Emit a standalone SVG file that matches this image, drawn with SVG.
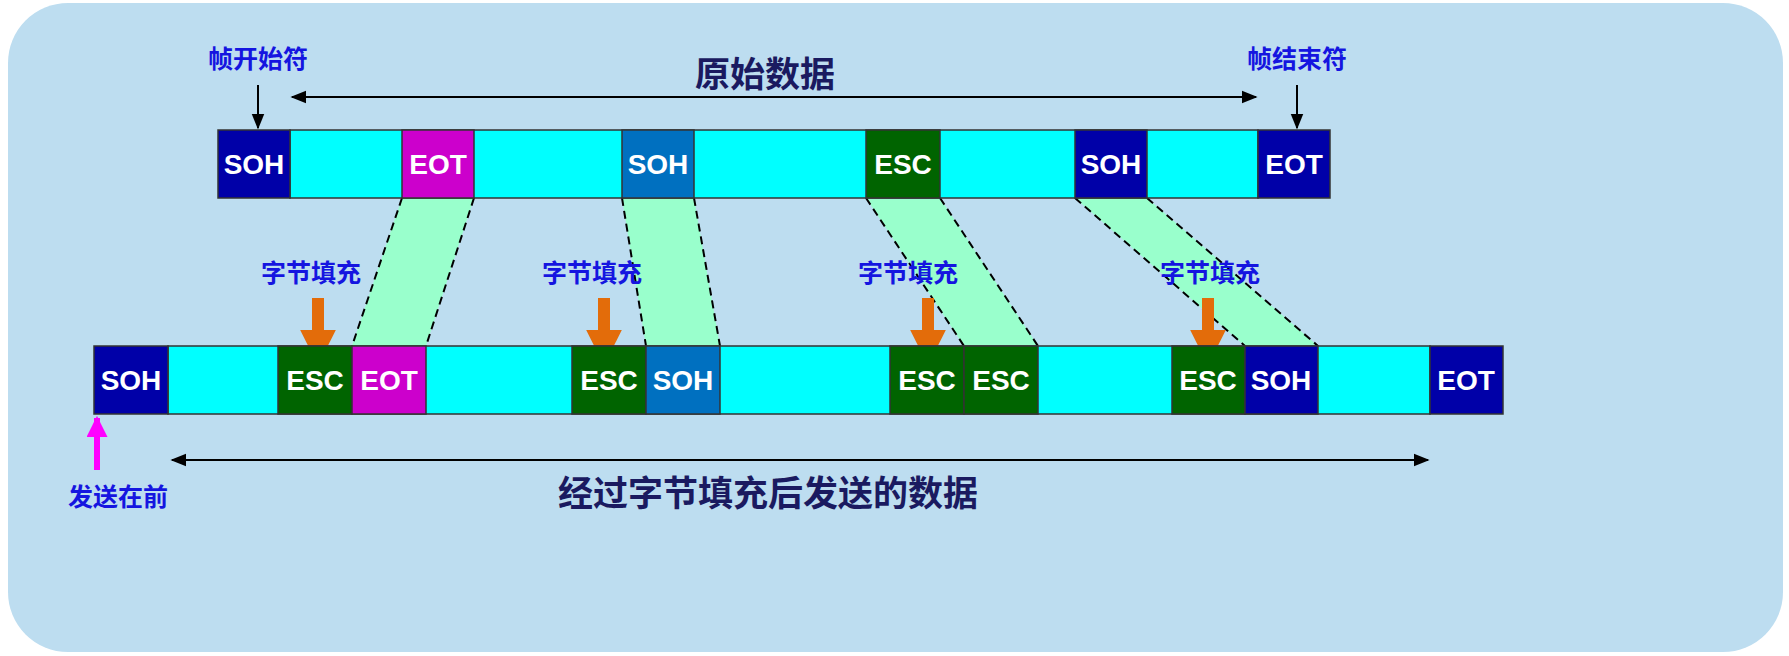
<svg xmlns="http://www.w3.org/2000/svg" width="1789" height="656" viewBox="0 0 1789 656">
<style>
.b{stroke:#333;stroke-width:1.5}
.cy{fill:#00FFFF}.db{fill:#0000A8}.mb{fill:#0070C0}.mg{fill:#CC00CC}.gr{fill:#006400}
.t{font-family:"Liberation Sans","Noto Sans CJK SC",sans-serif;font-weight:bold;fill:#fff;font-size:28px;text-anchor:middle}
.lb{font-family:"Noto Sans CJK SC",sans-serif;font-weight:bold;fill:#1515E0;font-size:25px;text-anchor:middle}
.hd{font-family:"Noto Sans CJK SC",sans-serif;font-weight:bold;fill:#1A1A60;font-size:35px;text-anchor:middle}
.tr{fill:#99FFCC}.dl{stroke:#000;stroke-width:2;stroke-dasharray:8,5;fill:none}
.ar{stroke:#000;stroke-width:2}
</style>
<defs>
<marker id="ah" viewBox="0 0 10 10" refX="9" refY="5" markerWidth="8" markerHeight="8" orient="auto-start-reverse"><path d="M0,1 L10,5 L0,9z" fill="#000"/></marker>
<marker id="pk" viewBox="0 0 10 10" refX="9" refY="5" markerWidth="3.5" markerHeight="3.5" orient="auto"><path d="M0,0 L10,5 L0,10z" fill="#FF00FF"/></marker>
<marker id="or" viewBox="0 0 10 10" refX="9" refY="5" markerWidth="3" markerHeight="3" orient="auto"><path d="M0,0 L10,5 L0,10z" fill="#E36C0A"/></marker>
</defs>
<rect x="8" y="3" width="1775" height="649" rx="60" fill="#BDDDF0"/>
<g id="connectors">
<polygon class="tr" points="402,198 474,198 426,346 352,346"/>
<polygon class="tr" points="622,198 694,198 720,346 646,346"/>
<polygon class="tr" points="866,198 940,198 1038,346 964,346"/>
<polygon class="tr" points="1075,198 1147,198 1318,346 1245,346"/>
<path class="dl" d="M402,198L352,346M474,198L426,346M622,198L646,346M694,198L720,346M866,198L964,346M940,198L1038,346M1075,198L1245,346M1147,198L1318,346"/>
<line class="ar" x1="292" y1="97" x2="1256" y2="97" marker-start="url(#ah)" marker-end="url(#ah)"/>
<line class="ar" x1="258" y1="85" x2="258" y2="128" marker-end="url(#ah)"/>
<line class="ar" x1="1297" y1="85" x2="1297" y2="128" marker-end="url(#ah)"/>
<line class="ar" x1="172" y1="460" x2="1428" y2="460" marker-start="url(#ah)" marker-end="url(#ah)"/>
<line x1="97" y1="470" x2="97" y2="418" stroke="#FF00FF" stroke-width="6" marker-end="url(#pk)"/>
<g stroke="#E36C0A" stroke-width="12" marker-end="url(#or)">
<line x1="318" y1="298" x2="318" y2="362"/><line x1="604" y1="298" x2="604" y2="362"/>
<line x1="928" y1="298" x2="928" y2="362"/><line x1="1208" y1="298" x2="1208" y2="362"/>
</g>
</g>
<g id="top-row">
<rect class="b cy" x="290" y="130" width="968" height="68"/>
<g id="t1"><rect class="b db" x="218" y="130" width="72" height="68"/><text class="t" x="254" y="174">SOH</text></g>
<g id="t2"><rect class="b mg" x="402" y="130" width="72" height="68"/><text class="t" x="438" y="174">EOT</text></g>
<g id="t3"><rect class="b mb" x="622" y="130" width="72" height="68"/><text class="t" x="658" y="174">SOH</text></g>
<g id="t4"><rect class="b gr" x="866" y="130" width="74" height="68"/><text class="t" x="903" y="174">ESC</text></g>
<g id="t5"><rect class="b db" x="1075" y="130" width="72" height="68"/><text class="t" x="1111" y="174">SOH</text></g>
<g id="t6"><rect class="b db" x="1258" y="130" width="72" height="68"/><text class="t" x="1294" y="174">EOT</text></g>
</g>
<g id="bottom-row">
<rect class="b cy" x="168" y="346" width="1262" height="68"/>
<g id="b1"><rect class="b db" x="94" y="346" width="74" height="68"/><text class="t" x="131" y="390">SOH</text></g>
<g id="b2"><rect class="b gr" x="278" y="346" width="74" height="68"/><text class="t" x="315" y="390">ESC</text></g>
<g id="b3"><rect class="b mg" x="352" y="346" width="74" height="68"/><text class="t" x="389" y="390">EOT</text></g>
<g id="b4"><rect class="b gr" x="572" y="346" width="74" height="68"/><text class="t" x="609" y="390">ESC</text></g>
<g id="b5"><rect class="b mb" x="646" y="346" width="74" height="68"/><text class="t" x="683" y="390">SOH</text></g>
<g id="b6"><rect class="b gr" x="890" y="346" width="74" height="68"/><text class="t" x="927" y="390">ESC</text></g>
<g id="b7"><rect class="b gr" x="964" y="346" width="74" height="68"/><text class="t" x="1001" y="390">ESC</text></g>
<g id="b8"><rect class="b gr" x="1172" y="346" width="73" height="68"/><text class="t" x="1208" y="390">ESC</text></g>
<g id="b9"><rect class="b db" x="1245" y="346" width="73" height="68"/><text class="t" x="1281" y="390">SOH</text></g>
<g id="b10"><rect class="b db" x="1430" y="346" width="73" height="68"/><text class="t" x="1466" y="390">EOT</text></g>
</g>
<g id="labels">
<text class="hd" x="765" y="87">原始数据</text>
<text class="lb" x="258" y="68">帧开始符</text>
<text class="lb" x="1297" y="68">帧结束符</text>
<text class="lb" x="311" y="282">字节填充</text>
<text class="lb" x="592" y="282">字节填充</text>
<text class="lb" x="908" y="282">字节填充</text>
<text class="lb" x="1210" y="282">字节填充</text>
<text class="hd" x="768" y="506">经过字节填充后发送的数据</text>
<text class="lb" x="118" y="506">发送在前</text>
</g>
</svg>
